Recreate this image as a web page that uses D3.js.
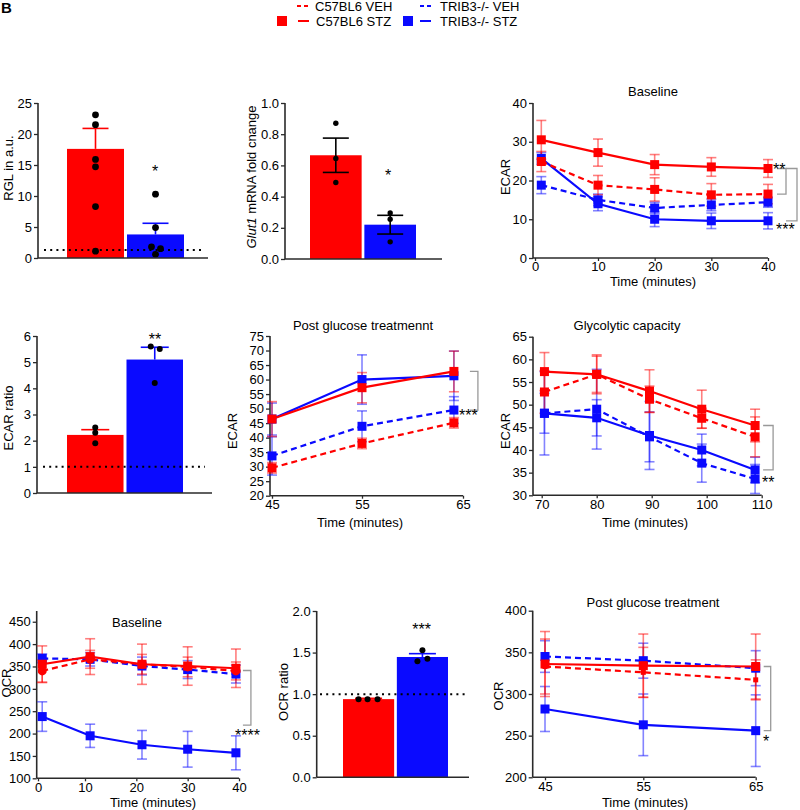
<!DOCTYPE html>
<html><head><meta charset="utf-8">
<script src="https://cdn.jsdelivr.net/npm/d3@7"></script>
<style>
body{margin:0;background:#fff;}
svg{display:block;font-family:'Liberation Sans',Arial,sans-serif;}
</style></head>
<body><svg id="c" width="800" height="810"></svg>
<script>
// ---------------- DATA ----------------
const groups = ["C57BL6 VEH", "C57BL6 STZ", "TRIB3-/- VEH", "TRIB3-/- STZ"];
const barGroups = ["C57BL6 STZ", "TRIB3-/- STZ"];

// RGL (a.u.)
const rglMean = [17.6, 3.8];
const rglErr = [3.3, 1.8];
const rglDotsC57 = [23.1, 21.5, 15.9, 14.7, 8.3, 1.1];
const rglDotsTrib = [10.3, 4.9, 1.8, 1.5, 0.6];
const rglRef = 1.3;
const rglTicks = [0, 5, 10, 15, 20, 25];

// Glut1 mRNA fold change
const glutMean = [0.665, 0.22];
const glutErr = [0.11, 0.06];
const glutDotsC57 = [0.87, 0.645, 0.49];
const glutDotsTrib = [0.295, 0.255, 0.11];
const glutTicks = [0, 0.2, 0.4, 0.6, 0.8, 1.0];

// ECAR baseline
const ecarBaseTime = [1, 10, 20, 30, 40];
const ecarBaseC57Veh = [24.9, 18.8, 17.7, 16.3, 16.5];
const ecarBaseC57VehErr = [2.6, 2.5, 3.0, 2.9, 2.5];
const ecarBaseC57Stz = [30.5, 27.2, 24.1, 23.5, 23.1];
const ecarBaseC57StzErr = [5.0, 3.5, 2.6, 2.4, 2.3];
const ecarBaseTribVeh = [18.8, 15.0, 12.9, 13.7, 14.4];
const ecarBaseTribVehErr = [2.2, 1.5, 1.5, 1.5, 1.3];
const ecarBaseTribStz = [25.7, 14.0, 10.0, 9.6, 9.6];
const ecarBaseTribStzErr = [1.5, 1.8, 1.9, 2.0, 2.1];
const ecarBaseXTicks = [0, 10, 20, 30, 40];
const ecarBaseYTicks = [0, 10, 20, 30, 40];

// ECAR ratio
const ecarRatioMean = [2.22, 5.1];
const ecarRatioErr = [0.2, 0.47];
const ecarRatioDotsC57 = [2.5, 2.3, 1.9];
const ecarRatioDotsTrib = [5.6, 5.5, 4.2];
const ecarRatioTicks = [0, 1, 2, 3, 4, 5, 6];

// ECAR post glucose
const ecarPostTime = [45, 55, 64.1];
const ecarPostC57Veh = [29.6, 38.0, 45.1];
const ecarPostC57VehErr = [1.8, 1.8, 1.8];
const ecarPostC57Stz = [46.4, 57.2, 62.8];
const ecarPostC57StzErr = [6.0, 5.2, 7.0];
const ecarPostTribVeh = [33.7, 43.9, 49.5];
const ecarPostTribVehErr = [6.6, 5.3, 4.6];
const ecarPostTribStz = [46.4, 60.0, 61.3];
const ecarPostTribStzErr = [5.5, 8.5, 8.5];
const ecarPostXTicks = [45, 55, 65];
const ecarPostYTicks = [20, 25, 30, 35, 40, 45, 50, 55, 60, 65, 70, 75];

// Glycolytic capacity
const glycoTime = [70.5, 80, 89.6, 99.1, 108.8];
const glycoC57Veh = [52.8, 56.7, 51.2, 47.0, 42.9];
const glycoC57VehErr = [4.7, 4.0, 2.9, 2.2, 4.4];
const glycoC57Stz = [57.3, 56.7, 53.0, 49.0, 45.4];
const glycoC57StzErr = [4.2, 4.3, 4.7, 4.2, 3.6];
const glycoTribVeh = [48.1, 49.0, 42.9, 37.1, 33.6];
const glycoTribVehErr = [4.4, 8.8, 5.5, 4.2, 3.2];
const glycoTribStz = [48.1, 47.1, 43.2, 40.0, 35.6];
const glycoTribStzErr = [9.2, 4.0, 7.5, 3.5, 2.8];
const glycoXTicks = [70, 80, 90, 100, 110];
const glycoYTicks = [30, 35, 40, 45, 50, 55, 60, 65];

// OCR baseline
const ocrBaseTime = [0.9, 11, 21.1, 30, 39.4];
const ocrBaseC57Veh = [340, 366, 355, 349, 340];
const ocrBaseC57VehErr = [25, 20, 22, 22, 20];
const ocrBaseC57Stz = [355, 372, 355, 351, 346];
const ocrBaseC57StzErr = [41, 40, 45, 43, 43];
const ocrBaseTribVeh = [368, 366, 351, 343, 333];
const ocrBaseTribVehErr = [10, 15, 20, 20, 20];
const ocrBaseTribStz = [238, 195, 175, 165, 157];
const ocrBaseTribStzErr = [33, 26, 32, 40, 38];
const ocrBaseXTicks = [0, 10, 20, 30, 40];
const ocrBaseYTicks = [100, 150, 200, 250, 300, 350, 400, 450];

// OCR ratio
const ocrRatioMean = [0.94, 1.447];
const ocrRatioErr = [0.01, 0.04];
const ocrRatioDotsC57 = [0.94, 0.94, 0.94];
const ocrRatioDotsTrib = [1.395, 1.527, 1.426];
const ocrRatioTicks = [0, 0.5, 1.0, 1.5, 2.0];

// OCR post glucose
const ocrPostTime = [45, 55, 65];
const ocrPostC57Veh = [333, 326, 317];
const ocrPostC57VehErr = [33, 30, 24];
const ocrPostC57Stz = [336, 334, 333];
const ocrPostC57StzErr = [39, 38, 39];
const ocrPostTribVeh = [345, 340, 331];
const ocrPostTribVehErr = [19, 21, 21];
const ocrPostTribStz = [282, 263, 256];
const ocrPostTribStzErr = [27, 37, 43];
const ocrPostXTicks = [45, 55, 65];
const ocrPostYTicks = [200, 250, 300, 350, 400];

// ---------------- DRAWING ----------------
const RED = "#ff0000", BLUE = "#0a0aff", AX = "#2a2a2a";
const svg = d3.select("#c");
const FS = 13;
const STAR = 16;

function styleAxis(g) {
  g.selectAll("text").attr("font-size", FS).attr("fill", "#000")
    .attr("font-family", "'Liberation Sans',Arial,sans-serif");
  g.selectAll("line").attr("stroke", AX).attr("stroke-width", 1.3);
  g.selectAll(".domain").remove();
}
function text(x, y, s, opts = {}) {
  const t = svg.append("text").attr("x", x).attr("y", y).text(s)
    .attr("font-size", opts.size || 13).attr("text-anchor", opts.anchor || "middle")
    .attr("fill", opts.fill || "#000");
  if (opts.rot) t.attr("transform", `rotate(-90,${x},${y})`);
  if (opts.weight) t.attr("font-weight", opts.weight);
  return t;
}
function yLabel(x, y, s) { return text(x, y, s, { rot: true }); }

function drawYAxis(y, axX, ticks, fmt) {
  const g = svg.append("g").attr("transform", `translate(${axX},0)`)
    .call(d3.axisLeft(y).tickValues(ticks).tickSize(4).tickPadding(2).tickFormat(fmt || d3.format("")));
  styleAxis(g);
  const r = y.range();
  svg.append("line").attr("x1", axX).attr("x2", axX).attr("y1", r[0]).attr("y2", r[1])
    .attr("stroke", AX).attr("stroke-width", 1.6);
}
function drawXLine(axX, x2, yPix) {
  svg.append("line").attr("x1", axX).attr("x2", x2).attr("y1", yPix).attr("y2", yPix)
    .attr("stroke", AX).attr("stroke-width", 1.6);
}

// ---- bar panel ----
function barPanel(cfg) {
  const y = d3.scaleLinear().domain(cfg.yDom).range(cfg.yRng);
  const x = d3.scaleBand().domain(barGroups).range(cfg.barRng).paddingInner(0.05).paddingOuter(0);
  const cols = [RED, BLUE];
  drawYAxis(y, cfg.axX, cfg.ticks, cfg.fmt);
  barGroups.forEach((gname, i) => {
    const x0 = x(gname), bw = x.bandwidth(), cx = x0 + bw / 2;
    svg.append("rect").attr("x", x0).attr("y", y(cfg.mean[i])).attr("width", bw)
      .attr("height", y(cfg.yDom[0]) - y(cfg.mean[i])).attr("fill", cols[i]);
    const ec = cfg.errBlack ? "#000" : cols[i];
    const lo = cfg.errBoth ? cfg.mean[i] - cfg.err[i] : cfg.mean[i];
    const hi = cfg.mean[i] + cfg.err[i];
    svg.append("line").attr("x1", cx).attr("x2", cx).attr("y1", y(lo)).attr("y2", y(hi))
      .attr("stroke", ec).attr("stroke-width", 1.6);
    const cw = cfg.capW;
    [hi].concat(cfg.errBoth ? [lo] : []).forEach(v => {
      svg.append("line").attr("x1", cx - cw / 2).attr("x2", cx + cw / 2).attr("y1", y(v)).attr("y2", y(v))
        .attr("stroke", ec).attr("stroke-width", 1.6);
    });
    const dots = i === 0 ? cfg.dotsA : cfg.dotsB;
    const jit = i === 0 ? cfg.jitA : cfg.jitB;
    dots.forEach((v, k) => {
      svg.append("circle").attr("cx", cx + (jit ? jit[k] : 0)).attr("cy", y(v)).attr("r", cfg.dotR).attr("fill", "#000");
    });
  });
  drawXLine(cfg.axX, cfg.xEnd, y(cfg.yDom[0]));
  if (cfg.ref != null) {
    svg.append("line").attr("x1", cfg.refX[0]).attr("x2", cfg.refX[1]).attr("y1", y(cfg.ref)).attr("y2", y(cfg.ref))
      .attr("stroke", "#000").attr("stroke-width", 2).attr("stroke-dasharray", "2,4.2");
  }
  return { x, y };
}

// ---- line panel ----
function linePanel(cfg) {
  const x = d3.scaleLinear().domain(cfg.xDom).range(cfg.xRng);
  const y = d3.scaleLinear().domain(cfg.yDom).range(cfg.yRng);
  drawYAxis(y, cfg.axX, cfg.yTicks);
  const gx = svg.append("g").attr("transform", `translate(0,${y(cfg.yDom[0])})`)
    .call(d3.axisBottom(x).tickValues(cfg.xTicks).tickSize(3).tickPadding(1).tickFormat(d3.format("")));
  styleAxis(gx);
  drawXLine(cfg.axX, x(cfg.xTicks[cfg.xTicks.length - 1]), y(cfg.yDom[0]));
  const line = d3.line().x(d => x(d[0])).y(d => y(d[1]));
  // error bars first
  cfg.series.forEach(s => {
    const g = svg.append("g").attr("stroke", s.color).attr("stroke-opacity", 0.5).attr("stroke-width", 1.6);
    cfg.t.forEach((t, i) => {
      const cx = x(t), lo = y(s.v[i] - s.e[i]), hi = y(s.v[i] + s.e[i]);
      g.append("line").attr("x1", cx).attr("x2", cx).attr("y1", lo).attr("y2", hi);
      g.append("line").attr("x1", cx - 5).attr("x2", cx + 5).attr("y1", lo).attr("y2", lo);
      g.append("line").attr("x1", cx - 5).attr("x2", cx + 5).attr("y1", hi).attr("y2", hi);
    });
  });
  cfg.series.forEach(s => {
    svg.append("path").datum(cfg.t.map((t, i) => [t, s.v[i]])).attr("d", line)
      .attr("fill", "none").attr("stroke", s.color).attr("stroke-width", 2.2)
      .attr("stroke-dasharray", s.dash ? "6,4" : null);
    cfg.t.forEach((t, i) => {
      const m = s.marker || "sq";
      const sz = s.size || 9;
      if (m === "circle") {
        svg.append("circle").attr("cx", x(t)).attr("cy", y(s.v[i])).attr("r", sz / 2).attr("fill", s.color);
      } else {
        svg.append("rect").attr("x", x(t) - sz / 2).attr("y", y(s.v[i]) - sz / 2)
          .attr("width", sz).attr("height", sz).attr("fill", s.color);
      }
    });
  });
  return { x, y };
}

function bracket(xa, xb, ya, yb) {
  svg.append("path").attr("d", `M${xa},${ya}H${xb}V${yb}H${xa}`)
    .attr("fill", "none").attr("stroke", "#999").attr("stroke-width", 1.3);
}
function ser(v, e, color, dash, marker, size) { return { v, e, color, dash, marker, size }; }

// Panel letter
text(1, 13, "B", { anchor: "start", size: 15, weight: "bold" });

// Legend
(function () {
  const items = [
    { lx: 297, tx: 315, y: 6, c: RED, dash: true, label: groups[0] },
    { lx: 420, tx: 440, y: 6, c: BLUE, dash: true, label: groups[2] },
    { lx: 298, tx: 316, y: 21, c: RED, dash: false, label: groups[1], sq: 277 },
    { lx: 420, tx: 440, y: 21, c: BLUE, dash: false, label: groups[3], sq: 403 }
  ];
  items.forEach(it => {
    svg.append("line").attr("x1", it.lx).attr("x2", it.lx + 11).attr("y1", it.y).attr("y2", it.y)
      .attr("stroke", it.c).attr("stroke-width", 2).attr("stroke-dasharray", it.dash ? "4,3" : null);
    text(it.tx, it.y + 5, it.label, { anchor: "start", size: 13 });
    if (it.sq) svg.append("rect").attr("x", it.sq).attr("y", it.y - 5).attr("width", 10).attr("height", 10).attr("fill", it.c);
  });
})();

// ---- Row 1 ----
barPanel({ yDom: [0, 25], yRng: [258, 103], axX: 38, barRng: [67, 184], ticks: rglTicks,
  mean: rglMean, err: rglErr, dotsA: rglDotsC57, dotsB: rglDotsTrib,
  jitA: [0, 0, 0, 0, 0, 0], jitB: [0, 0, -4, 5, 0], dotR: 3.4, capW: 26,
  xEnd: 208, ref: rglRef, refX: [44, 205] });
yLabel(13, 168, "RGL in a.u.");
text(155, 177, "*", { size: STAR });

barPanel({ yDom: [0, 1], yRng: [259, 103], axX: 285, barRng: [310, 416], ticks: glutTicks,
  fmt: d3.format(".1f"), mean: glutMean, err: glutErr, dotsA: glutDotsC57, dotsB: glutDotsTrib,
  dotR: 2.7, capW: 26, errBoth: true, errBlack: true, xEnd: 442 });
(function () {
  const t = svg.append("text").attr("transform", "translate(256,177) rotate(-90)")
    .attr("text-anchor", "middle").attr("font-size", 13);
  t.append("tspan").attr("font-style", "italic").text("Glut1");
  t.append("tspan").text(" mRNA fold cnange");
})();
text(388, 181, "*", { size: STAR });

const pB = linePanel({ xDom: [0, 10, 40], xRng: [535, 598, 768], yDom: [0, 40], yRng: [258, 103], axX: 533,
  xTicks: ecarBaseXTicks, yTicks: ecarBaseYTicks, t: ecarBaseTime,
  series: [
    ser(ecarBaseTribVeh, ecarBaseTribVehErr, BLUE, true),
    ser(ecarBaseTribStz, ecarBaseTribStzErr, BLUE, false),
    ser(ecarBaseC57Veh, ecarBaseC57VehErr, RED, true),
    ser(ecarBaseC57Stz, ecarBaseC57StzErr, RED, false)
  ] });
text(653, 96, "Baseline");
text(653, 286, "Time (minutes)");
yLabel(510, 177, "ECAR");
{
  const xe = pB.x(ecarBaseTime[4]), yb = pB.y;
  bracket(xe + 9, xe + 18, yb(ecarBaseC57Stz[4]), yb(ecarBaseC57Veh[4]));
  bracket(xe + 18, xe + 29, yb(ecarBaseC57Stz[4]), yb(ecarBaseTribStz[4]));
  text(773, 175, "**", { anchor: "start", size: STAR });
  text(776, 235, "***", { anchor: "start", size: STAR });
}

// ---- Row 2 ----
barPanel({ yDom: [0, 6], yRng: [493, 336], axX: 37, barRng: [67, 183], ticks: ecarRatioTicks,
  mean: ecarRatioMean, err: ecarRatioErr, dotsA: ecarRatioDotsC57, dotsB: ecarRatioDotsTrib,
  jitA: [0, 0, 0], jitB: [-4, 5, 0], dotR: 3, capW: 28, xEnd: 212, ref: 1.0, refX: [43, 205] });
yLabel(13, 418, "ECAR ratio");
text(155, 345, "**", { size: STAR });

const pP = linePanel({ xDom: [45, 55, 65], xRng: [272, 362, 463], yDom: [20, 75], yRng: [495.7, 336], axX: 270,
  xTicks: ecarPostXTicks, yTicks: ecarPostYTicks, t: ecarPostTime,
  series: [
    ser(ecarPostTribVeh, ecarPostTribVehErr, BLUE, true),
    ser(ecarPostTribStz, ecarPostTribStzErr, BLUE, false),
    ser(ecarPostC57Veh, ecarPostC57VehErr, RED, true),
    ser(ecarPostC57Stz, ecarPostC57StzErr, RED, false)
  ] });
text(363, 330, "Post glucose treatmennt");
text(360, 527, "Time (minutes)");
yLabel(237, 431, "ECAR");
{
  const xe = pP.x(ecarPostTime[2]), yb = pP.y;
  bracket(xe + 16, xe + 24, yb(ecarPostC57Stz[2]), yb(ecarPostTribVeh[2]));
  text(459, 421, "***", { anchor: "start", size: STAR });
}

const pG = linePanel({ xDom: [70, 110], xRng: [541.7, 761.7], yDom: [30, 65], yRng: [495.3, 336.7], axX: 533,
  xTicks: glycoXTicks, yTicks: glycoYTicks, t: glycoTime,
  series: [
    ser(glycoTribVeh, glycoTribVehErr, BLUE, true),
    ser(glycoTribStz, glycoTribStzErr, BLUE, false),
    ser(glycoC57Veh, glycoC57VehErr, RED, true),
    ser(glycoC57Stz, glycoC57StzErr, RED, false)
  ] });
text(627, 330, "Glycolytic capacity");
text(645, 527, "Time (minutes)");
yLabel(510, 431, "ECAR");
{
  const xe = pG.x(glycoTime[4]), yb = pG.y;
  bracket(xe + 8, xe + 18, yb(glycoC57Stz[4]), yb(glycoTribStz[4]));
  text(762, 488, "**", { anchor: "start", size: STAR });
}

// ---- Row 3 ----
const pO = linePanel({ xDom: [0, 10, 40], xRng: [38, 85, 239], yDom: [100, 474], yRng: [778.3, 611], axX: 36.7,
  xTicks: ocrBaseXTicks, yTicks: ocrBaseYTicks, t: ocrBaseTime,
  series: [
    ser(ocrBaseTribStz, ocrBaseTribStzErr, BLUE, false),
    ser(ocrBaseTribVeh, ocrBaseTribVehErr, BLUE, true),
    ser(ocrBaseC57Veh, ocrBaseC57VehErr, RED, true, "circle", 9),
    ser(ocrBaseC57Stz, ocrBaseC57StzErr, RED, false)
  ] });
text(137, 627, "Baseline");
text(153, 807, "Time (minutes)");
yLabel(11, 683, "OCR");
{
  const xe = pO.x(ocrBaseTime[4]), yb = pO.y;
  bracket(xe + 7, xe + 15, yb(ocrBaseC57Stz[4] - 5), yb(219));
  text(235, 741, "****", { anchor: "start", size: STAR });
}

barPanel({ yDom: [0, 2], yRng: [777.3, 611], axX: 316.7, barRng: [343, 448], ticks: ocrRatioTicks,
  fmt: d3.format(".1f"), mean: ocrRatioMean, err: ocrRatioErr, dotsA: ocrRatioDotsC57, dotsB: ocrRatioDotsTrib,
  jitA: [-10, -1, 9], jitB: [-5, 0, 5], dotR: 3, capW: 27, xEnd: 469, ref: 1.0, refX: [320, 465] });
yLabel(288, 692, "OCR ratio");
text(421.7, 635, "***", { size: STAR });

const pQ = linePanel({ xDom: [45, 55, 65], xRng: [545, 643.3, 755.7], yDom: [200, 400], yRng: [777.3, 610.7], axX: 532.7,
  xTicks: ocrPostXTicks, yTicks: ocrPostYTicks, t: ocrPostTime,
  series: [
    ser(ocrPostTribStz, ocrPostTribStzErr, BLUE, false),
    ser(ocrPostTribVeh, ocrPostTribVehErr, BLUE, true),
    ser(ocrPostC57Veh, ocrPostC57VehErr, RED, true, "sq", 5),
    ser(ocrPostC57Stz, ocrPostC57StzErr, RED, false)
  ] });
text(653, 607, "Post glucose treatment");
text(645, 807, "Time (minutes)");
yLabel(503, 696, "OCR");
{
  const xe = pQ.x(ocrPostTime[2]), yb = pQ.y;
  bracket(xe + 8, xe + 15, yb(ocrPostC57Stz[2]), yb(ocrPostTribStz[2]));
  text(763, 747, "*", { anchor: "start", size: STAR });
}
</script></body></html>
